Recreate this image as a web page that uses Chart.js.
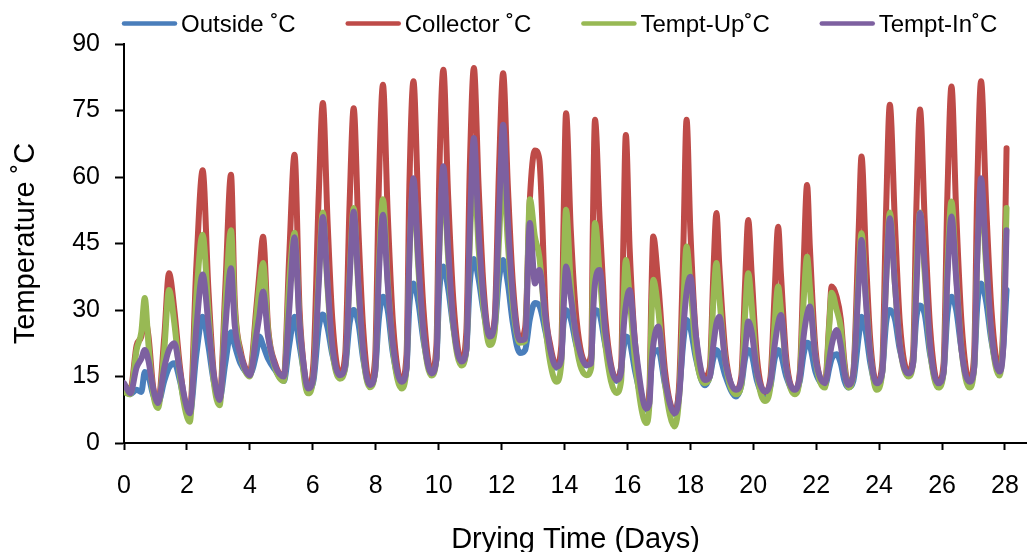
<!DOCTYPE html>
<html lang="en">
<head>
  <meta charset="UTF-8">
  <title>Drying temperatures</title>
  <script src="https://cdn.jsdelivr.net/npm/chart.js"></script>
  <style>
    body {
      margin: 0;
      background: #fff;
    }
    .chart-box {
      width: 1027px;
      height: 552px;
    }
  </style>
</head>
<body>
  <div class="chart-box">
    <canvas id="tempChart"></canvas>
  </div>
  <script>
    // time of each reading, in days
    var days = [
      0, 0.2, 0.4, 0.55, 0.66, 0.78, 0.92, 1.08, 1.28, 1.43, 1.6, 1.78, 1.93, 2.09,
      2.3, 2.5, 2.68, 2.85, 3.04, 3.22, 3.4, 3.52, 3.7, 4.0, 4.2, 4.3, 4.42, 4.58, 4.8, 5.08,
      5.25, 5.42, 5.58, 5.72, 5.85,
      6.02, 6.19, 6.32, 6.47, 6.62, 6.86,
      7.03, 7.17, 7.3, 7.45, 7.6, 7.81,
      7.98, 8.1, 8.23, 8.38, 8.55, 8.82,
      8.98, 9.07, 9.2, 9.35, 9.52, 9.77,
      9.93, 10.02, 10.15, 10.3, 10.47, 10.72,
      10.88, 10.99, 11.12, 11.27, 11.42, 11.62,
      11.78, 11.92, 12.05, 12.2, 12.36, 12.58,
      12.75, 12.9, 13.06, 13.2, 13.4, 13.55, 13.74,
      13.9, 13.97, 14.05, 14.2, 14.38, 14.7,
      14.85, 14.9, 14.97, 15.12, 15.3, 15.65,
      15.8, 15.87, 15.95, 16.07, 16.25, 16.6,
      16.7, 16.76, 16.82, 16.98, 17.2, 17.5,
      17.65, 17.78, 17.88, 18.0, 18.18, 18.46,
      18.62, 18.73, 18.83, 18.92, 19.12, 19.45,
      19.62, 19.74, 19.84, 19.95, 20.12, 20.37,
      20.55, 20.68, 20.79, 20.88, 21.05, 21.32,
      21.48, 21.6, 21.71, 21.8, 21.98, 22.28,
      22.42, 22.49, 22.65, 22.78, 22.9, 23.02,
      23.18, 23.35, 23.44, 23.58, 23.72, 23.92,
      24.1, 24.22, 24.34, 24.5, 24.66, 24.93,
      25.08, 25.18, 25.3, 25.45, 25.62, 25.88,
      26.05, 26.17, 26.3, 26.45, 26.62, 26.87,
      27.02, 27.12, 27.24, 27.4, 27.57, 27.82,
      27.95, 28.05
    ];

    var outside = [
      12, 11, 12, 11.5, 16, 15, 11, 9, 14, 17, 18, 14, 9, 6.5,
      20, 28.5, 22, 14, 10, 18, 25, 22, 18, 15.5, 20, 24, 22, 19, 16.5, 14,
      22, 28.5, 22, 16, 12,
      14, 26, 29, 26, 20, 15,
      17, 27, 30, 27, 19, 13,
      16, 28, 33, 30, 20, 13.5,
      17, 31, 36, 32, 23, 16,
      19, 34, 39.8, 35, 26, 18,
      21, 36, 41.5, 37, 30, 24,
      26, 37, 41.3, 36, 27, 20.3,
      21, 28, 31.6, 31, 25, 20, 17,
      20, 27, 30, 28, 22, 17.5,
      19, 26, 30, 29, 22, 14,
      17, 21, 24, 23, 16, 7.5,
      11, 17, 20, 21, 13, 6.5,
      12, 23, 27.8, 26, 19, 13,
      15, 19, 21, 20, 15, 10.5,
      13, 19, 21, 20, 14, 10.5,
      13, 19, 21, 20, 15, 11.5,
      14, 20, 22.6, 22, 16, 13,
      17, 19, 20, 18, 14, 12.5,
      14, 24, 28.5, 25, 18, 13,
      16, 27, 30, 28, 21, 16,
      18, 28, 31, 29, 20, 13,
      16, 29, 33, 30, 21, 13.5,
      17, 31, 36, 32, 23, 16,
      22, 34.5
    ];

    var collector = [
      13, 12, 22, 24, 28, 24, 13, 9, 24, 38.3, 30, 17, 9.5, 6.5,
      40, 61.5, 35, 16, 10, 35, 60.5, 32, 21, 16, 30, 38, 46.5, 26, 18, 15,
      42, 65, 30, 17, 12.3,
      18, 56, 76.7, 50, 28, 15.5,
      20, 54, 75.5, 48, 26, 13.5,
      19, 58, 80.8, 52, 27, 14,
      20, 58, 81.6, 54, 30, 16,
      22, 60, 84.2, 56, 32, 18.5,
      25, 62, 84.6, 58, 36, 24,
      28, 62, 83.4, 58, 36, 23.5,
      26, 55, 66, 64, 30, 22, 17.5,
      22, 50, 74.4, 48, 28, 18,
      20, 48, 72.9, 50, 28, 14.5,
      17, 45, 69.5, 44, 22, 8,
      12, 33, 46.6, 36, 16, 7,
      14, 45, 72.9, 48, 24, 15,
      17, 38, 51.9, 40, 20, 12,
      15, 36, 50.3, 38, 19, 11.5,
      15, 34, 48.8, 38, 19, 12,
      16, 40, 58.2, 44, 21, 13.5,
      28, 35.3, 33, 28, 18, 13,
      16, 48, 64.6, 42, 23, 13.5,
      18, 52, 76.3, 50, 27, 16,
      20, 52, 75.2, 50, 26, 13.5,
      18, 56, 80.4, 52, 27, 14,
      20, 58, 81.6, 54, 30, 16.5,
      28, 66.5
    ];

    var temptUp = [
      11.5, 11, 21, 25, 32.7, 22, 11.5, 7.9, 21, 34.5, 27, 15, 8, 4.8,
      33, 47, 30, 14, 8.5, 31, 48, 30, 20, 15, 28, 35, 40.6, 25, 17, 14,
      36, 47.4, 27, 15, 11.2,
      15, 38, 52, 35, 21, 14.5,
      17, 38, 53, 35, 20, 12.6,
      16, 40, 55, 37, 21, 12.3,
      17, 42, 58, 40, 24, 15.2,
      19, 43, 60, 42, 26, 17.5,
      21, 45, 61.6, 44, 31, 22.1,
      25, 46, 61.6, 45, 31, 22.6,
      23, 55, 46.5, 42, 26, 18, 13.8,
      18, 38, 52.6, 36, 22, 15.3,
      17, 36, 49.6, 38, 22, 11.3,
      14, 30, 41.3, 33, 18, 4.5,
      9, 27, 36.8, 30, 13, 3.7,
      11, 32, 44.3, 36, 20, 13.5,
      15, 32, 40.6, 33, 18, 11,
      13, 29, 38.3, 31, 16, 9.5,
      13, 27, 35.3, 30, 17, 11,
      15, 32, 42, 35, 19, 12.5,
      27, 33.9, 30, 26, 17, 12.5,
      15.5, 38, 47.3, 33, 20, 12,
      16, 37, 52, 36, 22, 15,
      18, 38, 52, 38, 21, 12.5,
      16, 40, 54.5, 38, 21, 12.5,
      17, 42, 57, 40, 24, 15.2,
      25, 53
    ];

    var temptIn = [
      13.5, 11.2, 17, 19, 21, 18.5, 12.5, 9, 17, 21, 22.5, 16, 10, 6.7,
      26, 38, 27, 15.5, 9.7, 26, 39.4, 26.5, 20, 15.3, 24, 28.5, 34.2, 24, 17.5, 15,
      30, 46.4, 27, 17, 12.3,
      15, 36, 51, 36, 22, 15.3,
      17.5, 37, 52.2, 36, 21, 13.1,
      16, 38, 51.5, 36, 22, 13.8,
      17, 42, 59.7, 42, 25, 15.7,
      19, 44, 62.4, 44, 27, 18.4,
      21, 48, 68.8, 48, 33, 24,
      27, 52, 71.8, 50, 33, 23.2,
      23.5, 49.6, 36, 39, 28, 21, 17.2,
      19, 30, 39.8, 33, 24, 17.6,
      18, 28, 36, 39, 25, 14.2,
      16, 25, 31, 34.5, 22, 7.8,
      9, 17, 22, 26.3, 14, 6.7,
      11, 26, 34, 37.5, 24, 14.2,
      15, 22, 27, 28.5, 18, 12,
      14, 21, 27.4, 25, 16, 11.6,
      14, 22, 27, 28.9, 17, 12,
      15, 24, 29, 30.8, 19, 13.5,
      19, 22, 25.5, 22, 16, 13.1,
      15.5, 36, 45.8, 32, 20, 13.5,
      16, 36, 50.7, 36, 22, 15.7,
      18, 34, 51.9, 40, 22, 13.5,
      16, 37, 51.1, 37, 21, 13.8,
      17, 42, 59.7, 42, 25, 16.1,
      22, 48
    ];

    var seriesNames = ['Outside ˚C', 'Collector ˚C', 'Tempt-Up˚C', 'Tempt-In˚C'];
    var seriesColors = ['#4A7EBB', '#BE4B48', '#98B954', '#7D60A0'];
    var xTicks = [0, 2, 4, 6, 8, 10, 12, 14, 16, 18, 20, 22, 24, 26, 28];

    var fontFamily = '"Liberation Sans", Arial, sans-serif';

    function toPoints(values) {
      return days.map(function(d, i) { return { x: d, y: values[i] }; });
    }

    var allSeries = [outside, collector, temptUp, temptIn];
    var datasets = allSeries.map(function(values, i) {
      return {
        label: seriesNames[i],
        data: toPoints(values),
        borderColor: seriesColors[i],
        backgroundColor: seriesColors[i],
        borderWidth: 6,
        pointRadius: 0,
        cubicInterpolationMode: 'monotone',
        borderJoinStyle: 'round',
        borderCapStyle: 'round',
        order: 4 - i  // later series drawn on top, like the original
      };
    });

    // legend drawn by hand so it sits where the original one does
    var lineLegend = {
      id: 'lineLegend',
      afterDraw: function(chart) {
        var ctx = chart.ctx;
        ctx.save();
        ctx.font = '24px ' + fontFamily;
        ctx.textBaseline = 'alphabetic';
        var x = 122;
        seriesNames.forEach(function(name, i) {
          ctx.strokeStyle = seriesColors[i];
          ctx.lineWidth = 4.5;
          ctx.lineCap = 'round';
          ctx.beginPath();
          ctx.moveTo(x + 2, 23.5);
          ctx.lineTo(x + 53, 23.5);
          ctx.stroke();
          ctx.fillStyle = '#000';
          ctx.fillText(name, x + 59, 32);
          x += 59 + ctx.measureText(name).width + 50;
        });
        ctx.restore();
      }
    };

    var ctx = document.getElementById('tempChart').getContext('2d');
    var tempChart = new Chart(ctx, {
      type: 'line',
      data: { datasets: datasets },
      options: {
        responsive: true,
        maintainAspectRatio: false,
        animation: false,
        layout: {
          padding: { top: 44, left: 0, right: 0, bottom: 0 }
        },
        plugins: {
          legend: { display: false },
          tooltip: { enabled: false }
        },
        scales: {
          x: {
            type: 'linear',
            min: 0,
            max: 28.7,
            afterBuildTicks: function(axis) {
              axis.ticks = xTicks.map(function(v) { return { value: v }; });
            },
            afterFit: function(axis) {
              axis.height = 109;
              axis.paddingLeft = 0;
              axis.paddingRight = 0;
            },
            grid: {
              drawOnChartArea: false,
              tickLength: 7,
              tickWidth: 2,
              tickColor: '#000'
            },
            border: { color: '#000', width: 2 },
            ticks: {
              color: '#000',
              padding: 21,
              maxRotation: 0,
              font: { family: fontFamily, size: 25 }
            },
            title: {
              display: true,
              text: 'Drying Time (Days)',
              color: '#000',
              padding: { top: 0, bottom: -5 },
              font: { family: fontFamily, size: 29 }
            }
          },
          y: {
            min: 0,
            max: 90,
            afterFit: function(axis) {
              axis.width = 124;
            },
            grid: {
              drawOnChartArea: false,
              tickLength: 9,
              tickWidth: 2,
              tickColor: '#000'
            },
            border: { color: '#000', width: 2 },
            ticks: {
              stepSize: 15,
              color: '#000',
              padding: 15,
              font: { family: fontFamily, size: 25 }
            },
            title: {
              display: true,
              text: 'Temperature ˚C',
              color: '#000',
              padding: { top: 9, bottom: 0 },
              font: { family: fontFamily, size: 29 }
            }
          }
        }
      },
      plugins: [lineLegend]
    });
  </script>
</body>
</html>
